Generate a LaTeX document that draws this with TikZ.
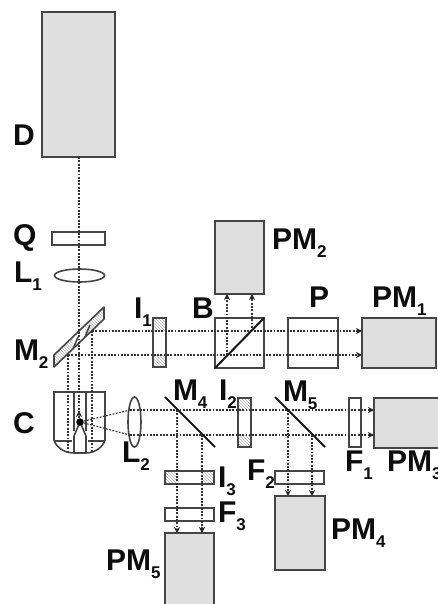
\documentclass[tikz,border=0pt]{standalone}
\usepackage{fontspec}
\setmainfont{Liberation Sans}
\usetikzlibrary{shapes.geometric,patterns,arrows.meta}
\definecolor{edgeC}{HTML}{454545}
\definecolor{fillC}{HTML}{DFDFDF}
\definecolor{beamC}{HTML}{333333}
\tikzset{
  part/.style={draw=edgeC,line width=1.6pt,inner sep=0pt,outer sep=0pt},
  det/.style={part,fill=fillC},
  hatchzone/.style={inner sep=0pt,outer sep=0pt,fill=fillC!70,pattern=north west lines,pattern color=gray!60},
  lens/.style={part,ellipse},
  beam/.style={draw=beamC,line width=1.1pt,dash pattern=on 1.9pt off 1.4pt},
  beamarrow/.style={beam,-{Stealth[length=6pt,width=6pt,color=black!85]}},
  mirror/.style={draw=black!90,line width=2pt},
  lbl/.style={font=\fontsize{30}{30}\selectfont\bfseries,anchor=base west,inner sep=0pt,outer sep=0pt,text=black!95}
}
\newcommand{\labsub}[2]{#1\raisebox{-8pt}{\fontsize{17}{17}\selectfont\bfseries #2}}
\newcommand{\bx}[6]{% style, name, x1,y1,x2,y2
  \pgfmathsetmacro{\bw}{#5-#3}\pgfmathsetmacro{\bh}{#6-#4}
  \pgfmathsetmacro{\bcx}{(#3+#5)/2}\pgfmathsetmacro{\bcy}{(#4+#6)/2}
  \node[#1,minimum width=\bw pt,minimum height=\bh pt] (#2) at (\bcx,\bcy) {};}
\begin{document}
\begin{tikzpicture}[x=1pt,y=-1pt]
\useasboundingbox (0,0) rectangle (438,604);
\clip (0,0) rectangle (438,604);
\fill[white] (0,0) rectangle (438,604);

% hatched zones
\bx{hatchzone}{hIa}{153}{318}{166}{331}
\bx{hatchzone}{hIb}{153}{355}{166}{367}
\bx{hatchzone}{hIIa}{238}{398}{251}{410}
\bx{hatchzone}{hIIb}{238}{435}{251}{447}
\bx{hatchzone}{hIIIa}{165}{471}{177}{484}
\bx{hatchzone}{hIIIb}{202}{471}{214}{484}
\fill[pattern=north west lines,pattern color=gray!60] (54,355) -- (104,307) -- (104,319) -- (54,367) -- cycle;
\fill[white] (73,337) -- (85,325) -- (85,337) -- (73,349) -- cycle;

% parts
\bx{det}{D}{42}{12}{115}{157}
\bx{part}{Q}{52}{232}{105}{245}
\node[lens,minimum width=50pt,minimum height=13pt] (Lone) at (79.5,275.5) {};
\bx{part}{Ione}{153}{318}{166}{367}
\bx{part}{B}{215}{318}{264}{368}
\bx{det}{PMtwo}{215}{221}{264}{294}
\bx{part}{P}{288}{318}{338}{368}
\bx{det}{PMone}{362}{318}{436}{368}
\node[lens,minimum width=13pt,minimum height=50pt] (Ltwo) at (134.5,422) {};
\bx{part}{Itwo}{238}{398}{251}{447}
\bx{part}{Ithree}{165}{471}{214}{484}
\bx{part}{Fthree}{165}{508}{214}{521}
\bx{det}{PMfive}{165}{533}{214}{612}
\bx{part}{Ftwo}{275}{471}{324}{484}
\bx{det}{PMfour}{275}{496}{325}{570}
\bx{part}{Fone}{349}{398}{361}{447}
\bx{det}{PMthree}{374}{398}{440}{448}

% M2 outline
\draw[part,line join=round] (54,355) -- (104,307) -- (104,319) -- (54,367) -- cycle;
\draw[part] (73,349) -- (78,337);
\draw[part] (85,337) -- (90,325);

% cell C
\draw[part] (54,392) -- (105,392) -- (105,440) .. controls (103,447) and (95,453) .. (86,453) -- (74,453) .. controls (64,453) and (56,447) .. (54,440) -- cycle;
\draw[part] (54,441) -- (72,441);
\draw[part] (88,441) -- (105,441);
\draw[part] (74,392) -- (74,431);
\draw[part] (86,392) -- (86,431);
\draw[part] (74,453) -- (74,436) -- (80,422) -- (86,436) -- (86,453);
\node[circle,fill=black,inner sep=0pt,outer sep=0pt,minimum size=7.5pt] (dot) at (80,422) {};

% coordinates of beams
\coordinate (upA) at (92,331);
\coordinate (upB) at (68,355);
\coordinate (cA) at (130,410);
\coordinate (cB) at (130,435);
\coordinate (mfourA) at (177,410);
\coordinate (mfourB) at (202,435);
\coordinate (mfiveA) at (288,410);
\coordinate (mfiveB) at (312,435);
\coordinate (bsA) at (227,355);
\coordinate (bsB) at (252,331);
\coordinate (Csouth) at (79,412);
\coordinate (upAend) at (92,452);
\coordinate (upBend) at (68,452);

% beams
\draw[beam] (D.south -| Csouth) -- (Csouth);
\draw[beamarrow] (79,418) -- (79,411);
\draw[beam] (upB) -- (upBend);
\draw[beam] (upA) -- (upAend);
\draw[beamarrow] (upA) -- (PMone.west |- upA);
\draw[beamarrow] (upB) -- (PMone.west |- upB);
\draw[beamarrow] (bsA) -- (PMtwo.south -| bsA);
\draw[beamarrow] (bsB) -- (PMtwo.south -| bsB);
\draw[beam] (dot) -- (cA);
\draw[beam] (dot) -- (cB);
\draw[beamarrow] (cA) -- (PMthree.west |- cA);
\draw[beamarrow] (cB) -- (PMthree.west |- cB);
\draw[beamarrow] (mfourA) -- (PMfive.north -| mfourA);
\draw[beamarrow] (mfourB) -- (PMfive.north -| mfourB);
\draw[beamarrow] (mfiveA) -- (PMfour.north -| mfiveA);
\draw[beamarrow] (mfiveB) -- (PMfour.north -| mfiveB);

% mirrors
\draw[mirror] (215,368) -- (264,318);
\draw[mirror] (165,397) -- (215,447);
\draw[mirror] (275,397) -- (325,447);

% labels
\node[lbl] (tD) at (13,146) {D};
\node[lbl] (tQ) at (13,245) {Q};
\node[lbl] (tL1) at (14,282) {\labsub{L}{1}};
\node[lbl] (tM2) at (14,360) {\labsub{M}{2}};
\node[lbl] (tC) at (13,433) {C};
\node[lbl] (tI1) at (134,318) {\labsub{I}{1}};
\node[lbl] (tB) at (192,318) {B};
\node[lbl] (tP) at (309,307) {P};
\node[lbl] (tPM1) at (372,307) {\labsub{PM}{1}};
\node[lbl] (tPM2) at (272,249) {\labsub{PM}{2}};
\node[lbl] (tL2) at (122,462) {\labsub{L}{2}};
\node[lbl] (tM4) at (173,400) {\labsub{M}{4}};
\node[lbl] (tI2) at (219,400) {\labsub{I}{2}};
\node[lbl] (tM5) at (283,401) {\labsub{M}{5}};
\node[lbl] (tF1) at (345,471) {\labsub{F}{1}};
\node[lbl] (tPM3) at (387,471) {\labsub{PM}{3}};
\node[lbl] (tF2) at (247,480) {\labsub{F}{2}};
\node[lbl] (tI3) at (218,487) {\labsub{I}{3}};
\node[lbl] (tF3) at (218,522) {\labsub{F}{3}};
\node[lbl] (tPM4) at (331,539) {\labsub{PM}{4}};
\node[lbl] (tPM5) at (106,570) {\labsub{PM}{5}};
\end{tikzpicture}
\end{document}
